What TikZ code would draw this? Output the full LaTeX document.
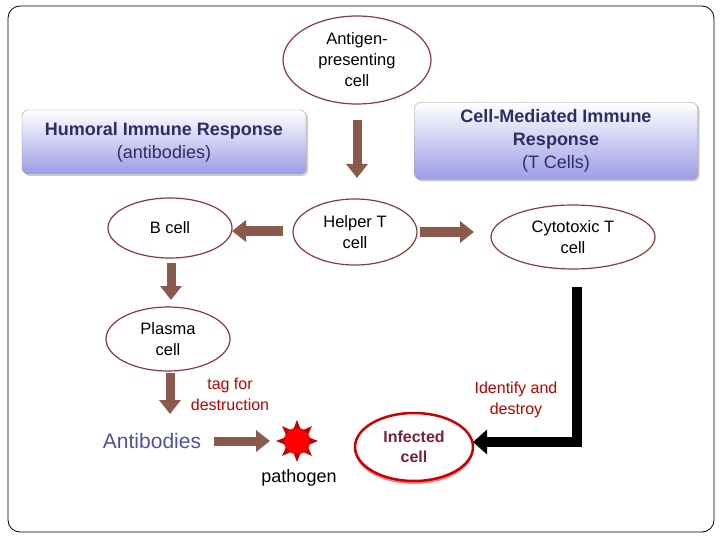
\documentclass[tikz,border=0pt]{standalone}
\usepackage{fontspec}
\setmainfont{Liberation Sans}
\usetikzlibrary{arrows.meta,shadows,calc,shapes.geometric}
\definecolor{brn}{HTML}{8B5A4C}
\definecolor{erim}{HTML}{8B3A3A}
\definecolor{boxtxt}{HTML}{2E2E66}
\definecolor{lav}{HTML}{9C9CE6}
\definecolor{tagred}{HTML}{C00000}
\definecolor{inf}{HTML}{7A1F3A}
\definecolor{abtxt}{HTML}{5050A0}
\tikzset{
 cellnode/.style={ellipse,draw=erim,line width=1.2pt,fill=white,align=center,font=\fontsize{16.5}{21}\selectfont,inner sep=0pt},
 respbox/.style={rounded corners=6pt,draw=gray!80,top color=white,bottom color=lav,align=center,text=boxtxt,font=\fontsize{18}{23}\selectfont,drop shadow={shadow xshift=2pt,shadow yshift=-2pt,opacity=0.4}},
 barrow/.style={line width=9pt,draw=brn,-{Triangle[width=21pt,length=14pt]}},
 redtxt/.style={text=tagred,align=center,font=\fontsize{16}{21}\selectfont},
}
\begin{document}
\begin{tikzpicture}[x=1pt,y=-1pt]
\useasboundingbox (0,0) rectangle (720,540);
\draw[rounded corners=12pt,line width=0.8pt] (8,6) rectangle (714,532);
\node[cellnode,minimum width=148pt,minimum height=88pt] (apc) at (357,60) {Antigen-\\presenting\\cell};
\node[respbox,minimum width=284pt,minimum height=64pt] (hum) at (164,142) {\textbf{Humoral Immune Response}\\(antibodies)};
\node[respbox,minimum width=283pt,minimum height=77pt] (cmi) at (556,141) {\textbf{Cell-Mediated Immune}\\\textbf{Response}\\(T Cells)};
\node[cellnode,minimum width=124pt,minimum height=66pt] (help) at (355,232) {Helper T\\cell};
\node[cellnode,minimum width=124pt,minimum height=60pt] (bcell) at (170,228) {B cell};
\node[cellnode,minimum width=164pt,minimum height=64pt] (cyto) at (573,237) {Cytotoxic T\\cell};
\node[cellnode,minimum width=124pt,minimum height=64pt] (plasma) at (168,339) {Plasma\\cell};
\node[redtxt] (tag) at (230,394) {tag for\\destruction};
\node[text=abtxt,font=\fontsize{21}{25}\selectfont] (ab) at (152,441) {Antibodies};
\foreach \a in {0,45,...,315}
  \fill[tagred] ($(297,441)+(\a:12)+(\a+90:3.5)$) -- ($(297,441)+(\a:21)$) -- ($(297,441)+(\a:12)+(\a-90:3.5)$) -- cycle;
\node[circle,fill=red,draw=tagred,minimum size=26pt,inner sep=0pt] (path) at (297,441) {};
\node[font=\fontsize{18}{22}\selectfont] (ptxt) at (299,478) {pathogen};
\node[ellipse,draw=red!80!black,line width=2.5pt,fill=white,minimum width=118pt,minimum height=68pt,align=center,text=inf,font=\bfseries\fontsize{16}{20}\selectfont,
  drop shadow={shadow xshift=0pt,shadow yshift=-3pt,fill=red,opacity=0.5}] (infc) at (414,447) {Infected\\cell};
\node[redtxt] (idd) at (516,400) {Identify and\\destroy};
\coordinate (a1s) at (357,120); \coordinate (a1e) at (357,178);
\coordinate (a2s) at (283,231); \coordinate (a2e) at (232,231);
\coordinate (a3s) at (420,232); \coordinate (a3e) at (474,232);
\coordinate (a4s) at (171,263); \coordinate (a4e) at (171,300);
\coordinate (a5s) at (170,373); \coordinate (a5e) at (170,414);
\coordinate (a6s) at (214,441); \coordinate (a6e) at (270,441);
\coordinate (ptop) at (577,287); \coordinate (ptip) at (473,442);
\draw[barrow] (a1s) -- (a1e);
\draw[barrow] (a2s) -- (a2e);
\draw[barrow] (a3s) -- (a3e);
\draw[barrow] (a4s) -- (a4e);
\draw[barrow] (a5s) -- (a5e);
\draw[barrow] (a6s) -- (a6e);
\draw[line width=10pt,-{Triangle[width=24pt,length=14pt]}] (ptop) |- (ptip);
\end{tikzpicture}
\end{document}
